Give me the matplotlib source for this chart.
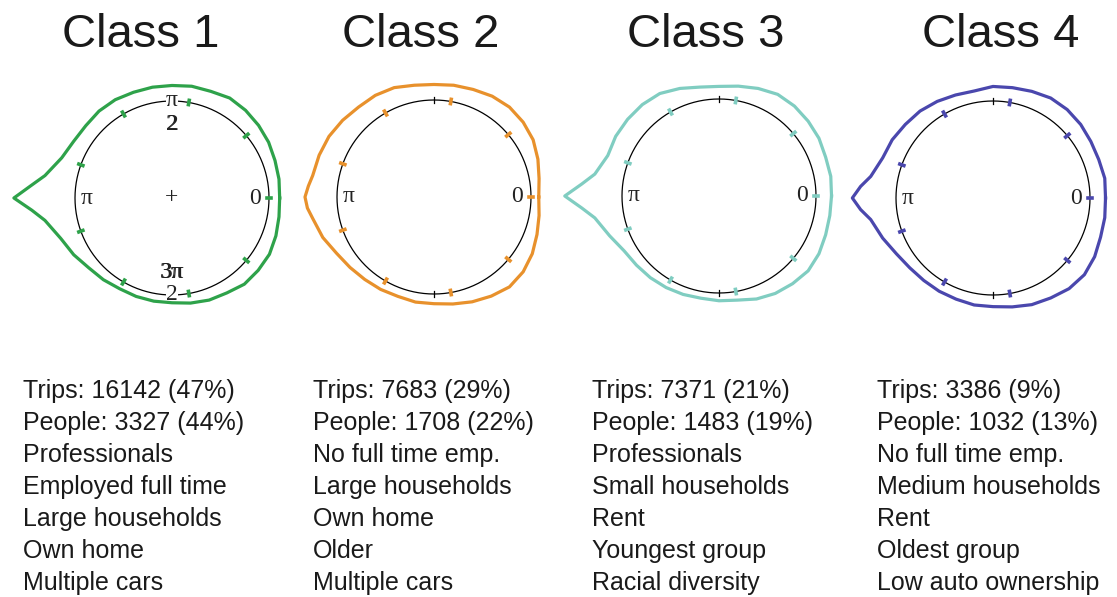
import numpy as np
import matplotlib
matplotlib.use("Agg")
import matplotlib.pyplot as plt

W, H = 1117, 597

angles = [0, 10, 20, 30, 40, 50, 60, 70, 80, 90, 100, 110, 120, 130, 140, 150, 160,
          170, 175, 180, 185, 190, 200, 210, 220, 230, 240, 250, 260, 270, 280, 290,
          300, 310, 320, 330, 340, 350]

class1_r = [1.11, 1.12, 1.13, 1.15, 1.165, 1.18, 1.19, 1.17, 1.17, 1.16, 1.16, 1.16, 1.17,
            1.17, 1.16, 1.17, 1.21, 1.33, 1.46, 1.63, 1.45, 1.33, 1.22, 1.17, 1.12, 1.10,
            1.08, 1.08, 1.08, 1.08, 1.10, 1.12, 1.13, 1.16, 1.16, 1.16, 1.14, 1.12]
class2_r = [1.08, 1.10, 1.14, 1.18, 1.20, 1.21, 1.20, 1.18, 1.17, 1.16, 1.17, 1.20, 1.21,
            1.21, 1.23, 1.25, 1.26, 1.27, 1.30, 1.33, 1.31, 1.27, 1.22, 1.16, 1.13, 1.11,
            1.10, 1.09, 1.10, 1.10, 1.12, 1.15, 1.18, 1.21, 1.20, 1.17, 1.13, 1.10]
class3_r = [1.16, 1.17, 1.17, 1.19, 1.20, 1.21, 1.21, 1.18, 1.15, 1.13, 1.14, 1.18, 1.22,
            1.23, 1.23, 1.23, 1.22, 1.30, 1.42, 1.59, 1.42, 1.30, 1.20, 1.13, 1.11, 1.10,
            1.09, 1.08, 1.07, 1.08, 1.09, 1.13, 1.16, 1.18, 1.20, 1.19, 1.17, 1.16]
class4_r = [1.16, 1.17, 1.16, 1.165, 1.18, 1.19, 1.19, 1.17, 1.155, 1.15, 1.12, 1.13, 1.15,
            1.17, 1.18, 1.20, 1.21, 1.28, 1.37, 1.45, 1.37, 1.28, 1.21, 1.15, 1.12, 1.11,
            1.11, 1.11, 1.12, 1.12, 1.14, 1.17, 1.19, 1.22, 1.23, 1.21, 1.18, 1.17]

titles = ["Class 1", "Class 2", "Class 3", "Class 4"]
colors = ["#2ea24a", "#e8912c", "#80cdc1", "#4a47ad"]
curves = [class1_r, class2_r, class3_r, class4_r]
marks = [0, 40, 80, 120, 160, 200, 240, 280, 320]

descriptions = [
    ["Trips: 16142 (47%)", "People: 3327 (44%)", "Professionals", "Employed full time",
     "Large households", "Own home", "Multiple cars"],
    ["Trips: 7683 (29%)", "People: 1708 (22%)", "No full time emp.", "Large households",
     "Own home", "Older", "Multiple cars"],
    ["Trips: 7371 (21%)", "People: 1483 (19%)", "Professionals", "Small households",
     "Rent", "Youngest group", "Racial diversity"],
    ["Trips: 3386 (9%)", "People: 1032 (13%)", "No full time emp.", "Medium households",
     "Rent", "Oldest group", "Low auto ownership"],
]

centers = [(172, 198), (434, 197), (719, 196), (993, 198)]
title_x = [141, 421, 706, 1001]
text_x = [23, 313, 592, 877]
R = 97          # pixel radius of unit circle
rmax = 1.75
S = 2 * R * rmax

fig = plt.figure(figsize=(W / 100, H / 100), dpi=100)
serif = "Liberation Serif"
sans = "Liberation Sans"
ink = "#222222"


def label(ax, th, r, s, **kw):
    ax.text(th, r, s, family=serif, fontsize=17, ha="center", va="center",
            color=ink, zorder=2, **kw)


for i in range(4):
    cx, cy = centers[i]
    ax = fig.add_axes([(cx - S / 2) / W, (H - cy - S / 2) / H, S / W, S / H],
                      projection="polar")
    ax.set_ylim(0, rmax)
    ax.axis("off")
    ax.patch.set_visible(False)

    th = np.deg2rad(angles + [360])
    rr = curves[i] + [curves[i][0]]
    ax.plot(th, rr, color=colors[i], lw=2.3, solid_joinstyle="round", zorder=4)

    circ = np.linspace(0, 2 * np.pi, 361)
    ax.plot(circ, np.ones_like(circ), color="black", lw=0.9, zorder=1)
    for a in [90, 270]:
        ax.plot([np.deg2rad(a)] * 2, [0.965, 1.035], color="black", lw=0.9, zorder=1)
    for a in marks:
        ax.plot([np.deg2rad(a)] * 2, [0.978, 1.022], color=colors[i], lw=2.6, zorder=3)

    label(ax, 0, 0.86, "0")
    label(ax, np.pi, 0.88, "π")

    if i == 0:
        bb = dict(facecolor="white", edgecolor="none", pad=0.3)
        label(ax, np.pi / 2, 1.0, "π", bbox=bb)
        label(ax, np.pi / 2 - 0.006, 0.76, "2")
        label(ax, np.pi / 2 + 0.006, 0.76, "2")
        label(ax, 3 * np.pi / 2 - 0.006, 0.77, "3π")
        label(ax, 3 * np.pi / 2 + 0.006, 0.77, "3π")
        label(ax, 3 * np.pi / 2, 1.0, "2", bbox=bb)
        label(ax, 0, 0, "+")

    fig.text(title_x[i] / W, 1 - 47 / H, titles[i], family=sans, fontsize=34,
             ha="center", va="baseline", color="#1a1a1a")
    for j, line in enumerate(descriptions[i]):
        fig.text(text_x[i] / W, 1 - (398 + 32 * j) / H, line, family=sans, fontsize=18,
                 ha="left", va="baseline", color="#1a1a1a")

fig.savefig("out.png", dpi=100, facecolor="white")
